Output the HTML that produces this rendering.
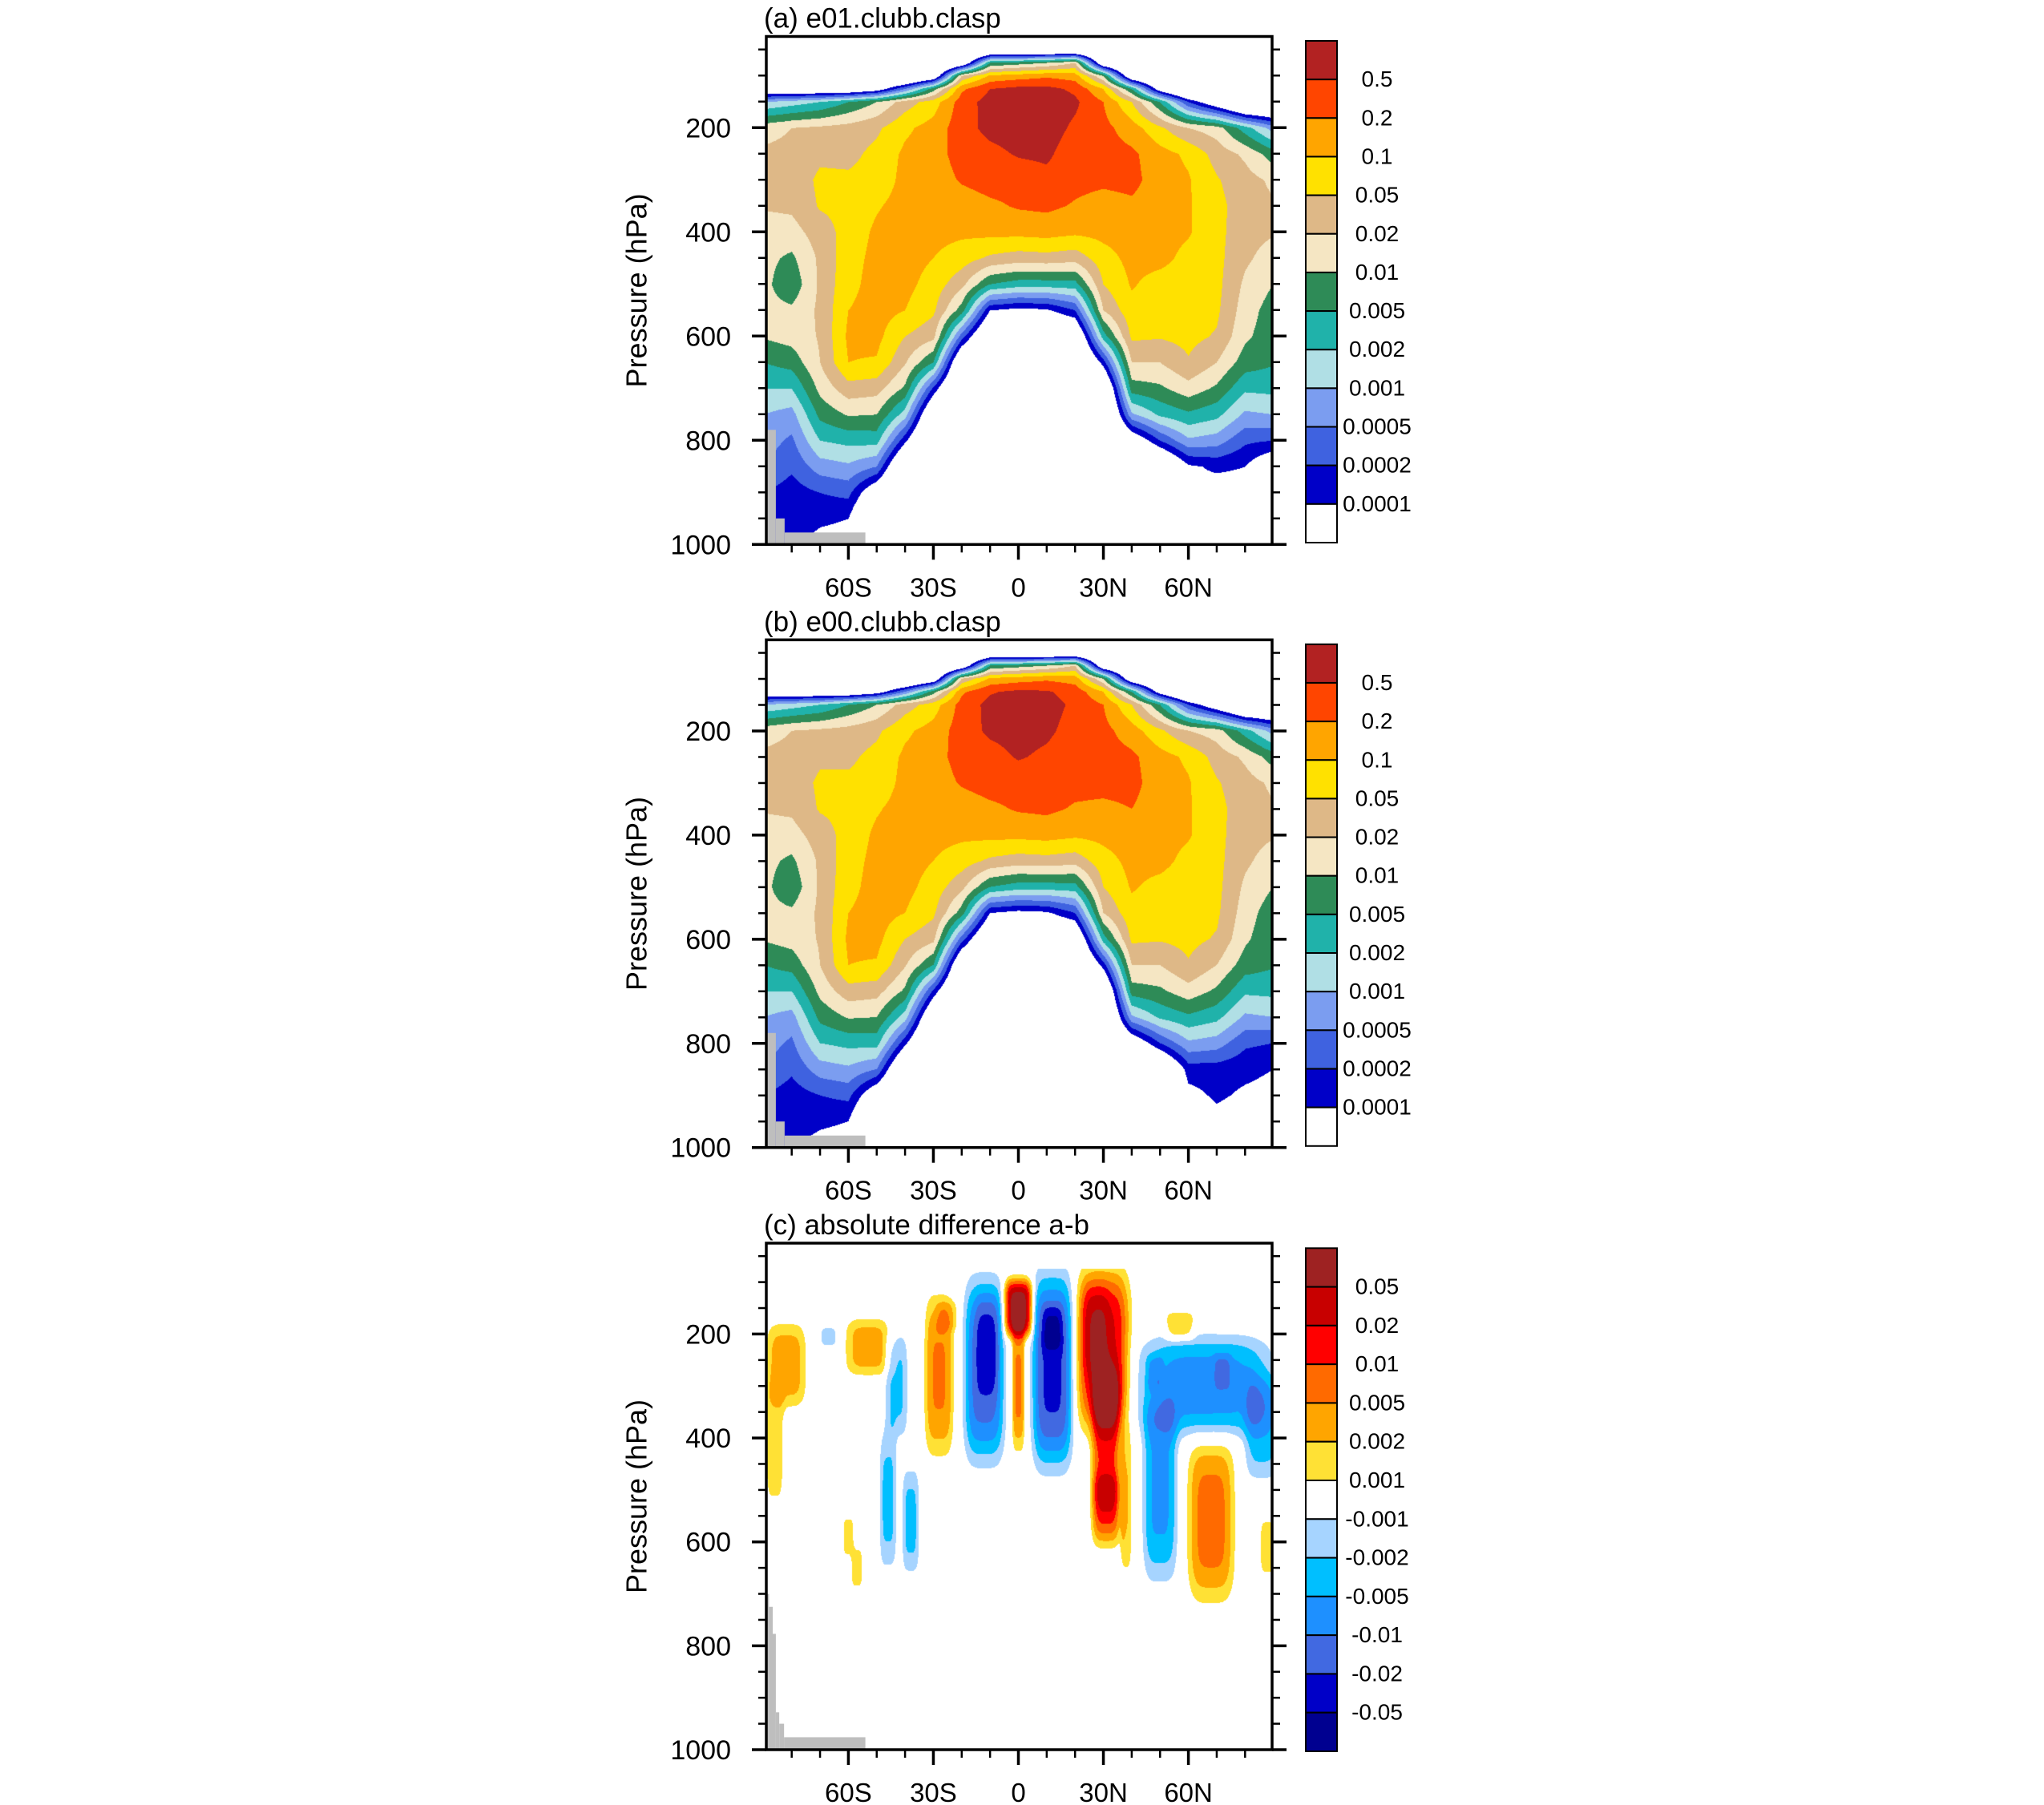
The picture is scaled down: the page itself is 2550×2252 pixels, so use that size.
<!DOCTYPE html>
<html><head><meta charset="utf-8">
<style>
body{margin:0;width:2550px;height:2252px;overflow:hidden;background:#fff;position:relative;font-family:"Liberation Sans",sans-serif}
canvas{position:absolute}
svg{position:absolute;left:0;top:0}
</style></head>
<body>
<canvas id="cva" width="631" height="634"></canvas>
<canvas id="cvb" width="631" height="634"></canvas>
<canvas id="cvc" width="631" height="632"></canvas>
<svg id="ov" width="2550" height="2252"></svg>
<script>
// ---------- data ----------
const lats = [-90,-80,-70,-60,-50,-40,-30,-20,-10,0,10,20,30,40,50,60,70,80,90];
const pLevels = [50,75,100,125,150,200,250,300,350,400,450,500,550,600,650,700,750,800,850,900,950,1000];
// cloud field in contour-level units (1 = 0.0001 ... 12 = 0.5), one row per latitude
const cloudA = [
[-3,-3,-3,-1,4,7.6,8.2,8.2,8.1,7.5,7.3,7.3,7.3,7.1,6,5,4,3.5,3,2,2,2],
[-3,-3,-3,-1,4.5,8,8.3,8.4,8.2,7.6,6.8,6.3,7.2,7.4,6.4,5,3.6,2.8,2.2,1.5,1.8,1],
[-3,-3,-3,-1,5,8.2,8.8,9.2,9.1,8.5,8.2,8.2,8.2,8.1,8,7.3,6.3,5,3.5,2,1.2,0.6],
[-3,-3,-3,-1,6,8.4,8.7,9.2,9.3,9.4,9.6,9.7,10,10.2,10,8.6,7.1,5.3,3.8,2.3,1,0.5],
[-3,-3,-3,0,7,8.8,9.3,9.4,9.9,10.2,10.3,10.4,10.4,10.3,9.9,8.4,7,5.4,3,-0.5,-2.5,-3],
[-3,-3,-3,3,8.5,9.8,10.2,10.3,10.4,10.4,10.4,10.3,10,9,8.1,6.8,4.5,1.3,-2,-3,-3,-3],
[-3,-3,-1,6.5,9.5,10.4,10.6,10.5,10.4,10.3,10,9.6,9.2,8.3,6,1.8,-1.5,-3,-3,-3,-3,-3],
[-3,-1,8,10.8,11.5,11.6,11.4,11.1,10.5,10.2,9.5,8.3,6.5,2.5,-1.5,-3,-3,-3,-3,-3,-3,-3],
[-2,6,10.2,12,12.4,12.3,11.7,11.4,10.8,10.3,8.8,6,1,-2,-3,-3,-3,-3,-3,-3,-3,-3],
[-2,6.5,10.5,12.3,12.6,12.5,12.1,11.4,11.1,10.3,8.5,5.5,0.6,-2,-3,-3,-3,-3,-3,-3,-3,-3],
[-2,7,10.8,12.3,12.6,12.5,12.2,11.7,11.2,10.4,8.6,5.5,0.8,-2,-3,-3,-3,-3,-3,-3,-3,-3],
[-2,8,10.5,11.8,12.2,11.8,11.4,11.3,10.9,10.2,8.4,5.6,2,-1.5,-3,-3,-3,-3,-3,-3,-3,-3],
[-3,-1,7,10,11,11.3,11.4,11.2,10.6,10.3,9.6,9,8,5.5,1.5,-2,-3,-3,-3,-3,-3,-3],
[-3,-3,-1,6,9,10.5,11.2,11.3,10.8,10.4,10.3,10.1,9.7,9.2,8,6.5,3.8,-0.5,-3,-3,-3,-3],
[-3,-3,-3,0,6,9.2,10.4,10.5,10.5,10.4,10.3,9.6,9.3,9.1,8,6.8,5.2,2,-2,-3,-3,-3],
[-3,-3,-3,-3,2,8,9.8,10.1,10.1,10.1,9.7,9.5,9.4,9.3,8.9,7.6,5.8,3.8,0.8,0.8,0.5,0.8],
[-3,-3,-3,-3,-0.5,7.5,8.6,9.1,9.3,9.3,9.3,9.3,9.2,8.9,8,6.8,5.3,3.5,1.2,0.4,0.8,0.3],
[-3,-3,-3,-3,-3,5.5,7.8,8.4,8.5,8.4,8.2,7.8,7.5,7.2,6.5,5.2,3.8,2.2,1,0.5,-0.5,-1],
[-3,-3,-3,-3,-3,3.5,6.5,7.8,8.1,8.1,7.5,7,6.5,6.4,6.1,5.3,4,2,-0.5,-1,-1,-1]
];
const cloudB = [
[-3,-3,-3,-1,4,7.6,8.2,8.2,8.1,7.5,7.3,7.3,7.3,7.1,6,5,4,3.5,3,2,2,2],
[-3,-3,-3,-1,4.5,8,8.3,8.4,8.2,7.6,6.8,6.3,7.2,7.4,6.4,5,3.6,2.8,2.2,1.5,1.6,1],
[-3,-3,-3,-1,5,8.2,8.8,9.2,9.1,8.5,8.2,8.2,8.2,8.1,8,7.3,6.3,5,3.5,2,1.2,0.6],
[-3,-3,-3,-1,6,8.4,8.8,9.2,9.3,9.4,9.6,9.7,10,10.2,10,8.6,7.1,5.3,3.8,2.3,1,0.5],
[-3,-3,-3,0,7,8.8,9.3,9.4,9.9,10.2,10.3,10.4,10.4,10.3,9.9,8.4,7,5.4,3,-0.5,-2.5,-3],
[-3,-3,-3,3,8.5,9.8,10.2,10.3,10.4,10.4,10.4,10.3,10,9,8.1,6.8,4.5,1.3,-2,-3,-3,-3],
[-3,-3,-1,6.5,9.5,10.4,10.6,10.5,10.4,10.3,10,9.6,9.2,8.3,6,1.8,-1.5,-3,-3,-3,-3,-3],
[-3,-1,8,10.8,11.4,11.5,11.4,11.1,10.5,10.2,9.5,8.3,6.5,2.5,-1.5,-3,-3,-3,-3,-3,-3,-3],
[-2,6,10.2,11.9,12.3,12.2,11.6,11.4,10.8,10.3,8.8,6,1,-2,-3,-3,-3,-3,-3,-3,-3,-3],
[-2,6.5,10.5,12.2,12.5,12.4,12.1,11.4,11.1,10.3,8.5,5.5,0.6,-2,-3,-3,-3,-3,-3,-3,-3,-3],
[-2,7,10.8,12.1,12.4,12.2,11.8,11.5,11.2,10.4,8.6,5.5,0.8,-2,-3,-3,-3,-3,-3,-3,-3,-3],
[-2,8,10.5,11.6,11.8,11.6,11.4,11.3,10.9,10.2,8.4,5.6,2,-1.5,-3,-3,-3,-3,-3,-3,-3,-3],
[-3,-1,7,10,11,11.3,11.4,11.3,10.8,10.3,9.6,9,8,5.5,1.5,-2,-3,-3,-3,-3,-3,-3],
[-3,-3,-1,6,9,10.5,11.2,11.3,11,10.5,10.3,10.1,9.7,9.2,8,6.5,3.8,-0.5,-3,-3,-3,-3],
[-3,-3,-3,0,6,9.2,10.4,10.5,10.5,10.4,10.3,9.7,9.4,9.1,8,6.8,5.2,2,-2,-3,-3,-3],
[-3,-3,-3,-3,2,8,9.8,10.1,10.1,10.1,9.7,9.5,9.4,9.3,8.9,7.6,5.8,3.8,1.5,0.6,-0.5,-1],
[-3,-3,-3,-3,-0.5,7.5,8.6,9.1,9.3,9.3,9.3,9.3,9.2,8.9,8,6.8,5.3,3.5,1.5,1.2,0.6,-0.5],
[-3,-3,-3,-3,-3,5.5,7.8,8.4,8.5,8.4,8.2,7.8,7.5,7.2,6.5,5.2,3.8,2.2,1.3,0.8,0.3,-0.5],
[-3,-3,-3,-3,-3,3.5,6.5,7.8,8.1,8.1,7.5,7,6.4,6.2,6.1,5.3,4,2,1,0.6,0.3,-0.5]
];
// difference field (c): anomaly blobs, amplitude in signed contour-level units
const diffLat = [-82,-86,-67,-53,-43,-46,-38,-60,-57,-28,-25,-12,-11,0,0,12,12,30,27,31,31,38,66,86,50,48,72,68,88,57];
const diffP   = [260,420,205,225,300,520,560,590,650,280,165,270,220,150,300,270,190,230,190,420,540,520,300,380,500,275,275,560,610,185];
const diffWLat= [7,3.5,3,8,4,3,3,2,2,5,4,7,4,5,2.2,7,3.5,9,5,5,5,2,23,6,6,3,3,8,3,5];
const diffWP  = [80,120,20,55,100,130,100,40,40,150,30,170,100,55,120,180,45,150,90,150,70,140,95,100,170,35,35,150,60,28];
const diffAmp = [2.6,1.4,-1.5,2.5,-2.2,-2.3,-2.3,1.6,1.7,3.1,1.2,-4.5,-1.3,6.6,3.2,-5.2,-1.5,5.2,1.2,4.2,2.3,2,-3.4,-2.4,-3.2,-1.2,-1.2,3.4,1.5,2.2];
// upper cut-off of difference field
const cTopLat = [-90,-45,-35,-25,38,45,55,90];
const cTopP   = [165,165,110,75,75,140,150,185];
// terrain (grey) steps: [lat0, lat1, top pressure]
const landAB = [[-90,-85.6,780],[-85.6,-82.5,950],[-82.5,-54,977]];
const landC  = [[-90,-88,700],[-88,-86.7,725],[-86.7,-85.6,777],[-85.6,-84.4,928],[-84.4,-82.7,950],[-82.7,-54,976]];
const yTicksMajor = [200,400,600,800,1000];
const yTicksMinor = [50,100,150,250,300,350,450,500,550,650,700,750,850,900,950];
const xTicksMajor = [-60,-30,0,30,60];
const xTickLabels = ['60S','30S','0','30N','60N'];
const xTicksMinor = [-80,-70,-50,-40,-20,-10,10,20,40,50,70,80];
const cbLabelsAB = ['0.5','0.2','0.1','0.05','0.02','0.01','0.005','0.002','0.001','0.0005','0.0002','0.0001'];
const cbLabelsC = ['0.05','0.02','0.01','0.005','0.002','0.001','-0.001','-0.002','-0.005','-0.01','-0.02','-0.05'];

// ---------- styling ----------
const colAB = ['#0000c8','#3f62e0','#7b9df0','#b0dfe5','#20b2aa','#2e8b57','#f5e6c3','#deb887','#ffe100','#ffa500','#ff4500','#b22222'];
const colPos = ['#ffe135','#ffa500','#ff6a00','#ff0000','#c80000','#9e2222'];
const colNeg = ['#a6d4ff','#00bfff','#1e90ff','#4169e1','#0000c8','#000090'];
const cbColAB = ['#b22222','#ff4500','#ffa500','#ffe100','#deb887','#f5e6c3','#2e8b57','#20b2aa','#b0dfe5','#7b9df0','#3f62e0','#0000c8','#ffffff'];
const cbColC = ['#9e2222','#c80000','#ff0000','#ff6a00','#ffa500','#ffe135','#ffffff','#a6d4ff','#00bfff','#1e90ff','#4169e1','#0000c8','#000090'];

const X0 = 1270.5, XS = 3.535, FL = 956, FR = 1587, PTOP = 25;
function xOf(lat){ return X0 + lat*XS; }
const panels = [
 {id:'a', cv:'cva', top:45.5, y1000:679.3, title:'(a) e01.clubb.clasp', cbTop:51, cbBot:677, grid:cloudA, land:landAB, labels:cbLabelsAB, cbCols:cbColAB},
 {id:'b', cv:'cvb', top:798.3, y1000:1431.7, title:'(b) e00.clubb.clasp', cbTop:803.8, cbBot:1429.8, grid:cloudB, land:landAB, labels:cbLabelsAB, cbCols:cbColAB},
 {id:'c', cv:'cvc', top:1551, y1000:2183, title:'(c) absolute difference a-b', cbTop:1557.3, cbBot:2185, grid:null, land:landC, labels:cbLabelsC, cbCols:cbColC}
];
function yOf(P,p){ const k=(P.y1000-P.top)/(1000-PTOP); return P.top + (p-PTOP)*k; }

function gridVal(g, lat, p){
  let fi = (Math.max(-90,Math.min(90,lat))+90)/10; let i0 = Math.min(17,Math.floor(fi)); let t = fi-i0;
  let pp = Math.max(50,Math.min(1000,p)); let j0 = 0;
  while(j0 < pLevels.length-2 && pLevels[j0+1] < pp) j0++;
  let u = (pp-pLevels[j0])/(pLevels[j0+1]-pLevels[j0]);
  const a=g[i0][j0], b=g[i0+1][j0], c=g[i0][j0+1], d=g[i0+1][j0+1];
  return (a*(1-t)+b*t)*(1-u) + (c*(1-t)+d*t)*u;
}
function cTop(lat){
  for(let i=0;i<cTopLat.length-1;i++){
    if(lat<=cTopLat[i+1]){ const t=(lat-cTopLat[i])/(cTopLat[i+1]-cTopLat[i]); return cTopP[i]+(cTopP[i+1]-cTopP[i])*Math.max(0,t); }
  }
  return cTopP[cTopP.length-1];
}
function diffVal(lat,p){
  if(p < cTop(lat)) return 0;
  let s=0;
  for(let i=0;i<diffLat.length;i++){
    const dx=(lat-diffLat[i])/diffWLat[i], dy=(p-diffP[i])/diffWP[i];
    const q=dx*dx*dx*dx+dy*dy*dy*dy; if(q>8) continue;
    s += diffAmp[i]*Math.exp(-q);
  }
  return s;
}
function hex(h){ return [parseInt(h.substr(1,2),16),parseInt(h.substr(3,2),16),parseInt(h.substr(5,2),16)]; }
const rgbAB = colAB.map(hex), rgbPos = colPos.map(hex), rgbNeg = colNeg.map(hex);

panels.forEach(P=>{
  const cv = document.getElementById(P.cv);
  const W = Math.round(FR-FL), H = Math.round(P.y1000-P.top);
  cv.width=W; cv.height=H; cv.style.left=FL+'px'; cv.style.top=P.top+'px';
  const ctx = cv.getContext('2d'); const im = ctx.createImageData(W,H); const D=im.data;
  const k=(P.y1000-P.top)/(1000-PTOP);
  for(let py=0;py<H;py++){
    const p = PTOP + (py+0.5)/k;
    for(let px=0;px<W;px++){
      const lat = (FL+px+0.5-X0)/XS;
      let c=[255,255,255];
      if(P.grid){
        const v=gridVal(P.grid,lat,p);
        if(v>=1){ c = rgbAB[Math.min(12,Math.floor(v))-1]; }
      } else {
        const v=diffVal(lat,p); const L=Math.min(6,Math.floor(Math.abs(v)));
        if(L>=1) c = v>0 ? rgbPos[L-1] : rgbNeg[L-1];
      }
      const o=(py*W+px)*4; D[o]=c[0];D[o+1]=c[1];D[o+2]=c[2];D[o+3]=255;
    }
  }
  ctx.putImageData(im,0,0);
});

// ---------- overlay ----------
const NS='http://www.w3.org/2000/svg'; const ov=document.getElementById('ov');
function mk(tag, attrs, parent){ const e=document.createElementNS(NS,tag); for(const k in attrs) e.setAttribute(k,attrs[k]); (parent||ov).appendChild(e); return e; }
panels.forEach(P=>{
  const g = mk('g',{});
  
  
  P.land.forEach(s=>{
    const x0=Math.max(FL,xOf(s[0]));
    const r = mk('rect',{x:x0,y:yOf(P,s[2]),width:xOf(s[1])-x0,height:P.y1000-yOf(P,s[2]),fill:'#bebebe'},g);
    
    
  });
  const fr = mk('rect',{x:FL,y:P.top,width:FR-FL,height:P.y1000-P.top,fill:'none',stroke:'#000','stroke-width':3.5},g);
  
  
  yTicksMajor.forEach(p=>{
    const y=yOf(P,p);
    mk('line',{x1:FL-18,x2:FL,y1:y,y2:y,stroke:'#000','stroke-width':3.5},g);
    mk('line',{x1:FR,x2:FR+18,y1:y,y2:y,stroke:'#000','stroke-width':3.5},g);
    const t=mk('text',{x:912,y:y+12,'text-anchor':'end','font-size':34},g); t.textContent=p;
    
    
  });
  yTicksMinor.forEach(p=>{
    const y=yOf(P,p);
    mk('line',{x1:FL-10,x2:FL,y1:y,y2:y,stroke:'#000','stroke-width':2.5},g);
    mk('line',{x1:FR,x2:FR+10,y1:y,y2:y,stroke:'#000','stroke-width':2.5},g);
  });
  xTicksMajor.forEach((lat,i)=>{
    const x=xOf(lat);
    mk('line',{x1:x,x2:x,y1:P.y1000,y2:P.y1000+19,stroke:'#000','stroke-width':3.5},g);
    const t=mk('text',{x:x,y:P.y1000+65,'text-anchor':'middle','font-size':33},g); t.textContent=xTickLabels[i];
    
    
  });
  xTicksMinor.forEach(lat=>{
    const x=xOf(lat);
    mk('line',{x1:x,x2:x,y1:P.y1000,y2:P.y1000+10,stroke:'#000','stroke-width':2.5},g);
  });
  const ti=mk('text',{x:953,y:P.top-11,'font-size':35},g); ti.textContent=P.title;
  
  
  const cy=(P.top+P.y1000)/2;
  const yt=mk('text',{x:794,y:cy,'text-anchor':'middle','dominant-baseline':'central','font-size':36,transform:'rotate(-90 794 '+cy+')'},g);
  yt.textContent='Pressure (hPa)';
  
  
  const cb=mk('g',{},g);
  
  
  const bh=(P.cbBot-P.cbTop)/13;
  P.cbCols.forEach((c,i)=>{
    const r=mk('rect',{x:1629,y:P.cbTop+i*bh,width:39,height:bh,fill:c,stroke:'#000','stroke-width':2},cb);
    
    
  });
  P.labels.forEach((s,i)=>{
    const t=mk('text',{x:1718,y:P.cbTop+(i+1)*bh+9,'text-anchor':'middle','font-size':28},cb); t.textContent=s;
    
    
  });
});
</script>
</body></html>
